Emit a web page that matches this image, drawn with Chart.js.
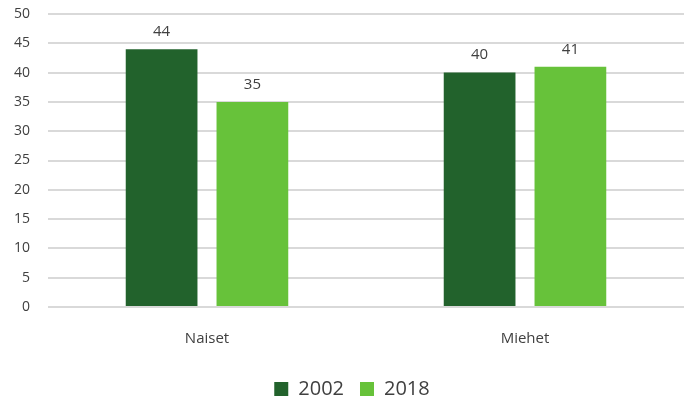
<!DOCTYPE html>
<html>
<head>
<meta charset="utf-8">
<script src="https://cdn.jsdelivr.net/npm/chart.js@4"></script>
<style>
  body { margin: 0; background: #fff; }
</style>
</head>
<body>
<canvas id="chart" width="693" height="408"></canvas>
<script>
const categories = ['Naiset', 'Miehet'];
const years = ['2002', '2018'];
const values2002 = [44, 40];
const values2018 = [35, 41];
const colors = ['#22622c', '#67c23a'];

// draw value labels above each bar
const valueLabels = {
    id: 'valueLabels',
    afterDatasetsDraw(chart) {
        const ctx = chart.ctx;
        ctx.save();
        ctx.font = '15px "Open Sans", sans-serif';
        ctx.fillStyle = '#404040';
        ctx.textAlign = 'center';
        ctx.textBaseline = 'bottom';
        chart.data.datasets.forEach((ds, i) => {
            chart.getDatasetMeta(i).data.forEach((bar, j) => {
                ctx.fillText(ds.data[j], bar.x, bar.y - 10);
            });
        });
        ctx.restore();
    }
};

// legend sits a bit right of centre in the original
const legendShift = {
    id: 'legendShift',
    afterLayout(chart) {
        chart.legend.left += 10;
        chart.legend.right += 10;
    }
};

new Chart(document.getElementById('chart').getContext('2d'), {
    type: 'bar',
    data: {
        labels: categories,
        datasets: [
            { label: years[0], data: values2002, backgroundColor: colors[0] },
            { label: years[1], data: values2018, backgroundColor: colors[1] }
        ]
    },
    options: {
        responsive: false,
        animation: false,
        categoryPercentage: 0.571,
        barPercentage: 0.79,
        layout: { padding: { top: 0, right: 9, left: 0, bottom: -1 } },
        plugins: {
            legend: {
                position: 'bottom',
                labels: {
                    boxWidth: 14,
                    boxHeight: 14,
                    padding: 16,
                    color: '#404040',
                    font: { family: '"Open Sans", sans-serif', size: 20 }
                }
            },
            tooltip: { enabled: false }
        },
        scales: {
            x: {
                grid: { display: false },
                border: { display: false },
                ticks: {
                    padding: 15,
                    color: '#404040',
                    font: { family: '"Open Sans", sans-serif', size: 15 }
                }
            },
            y: {
                min: 0,
                max: 50,
                border: { display: false },
                grid: { color: '#d9d9d9', lineWidth: 2, drawTicks: false },
                ticks: {
                    stepSize: 5,
                    padding: 18,
                    color: '#404040',
                    font: { family: '"Open Sans", sans-serif', size: 14 }
                },
                afterFit(scale) {
                    scale.width = 48;
                    scale.paddingTop = 14;
                    scale.paddingBottom = 8;
                }
            }
        }
    },
    plugins: [valueLabels, legendShift]
});
</script>
</body>
</html>
